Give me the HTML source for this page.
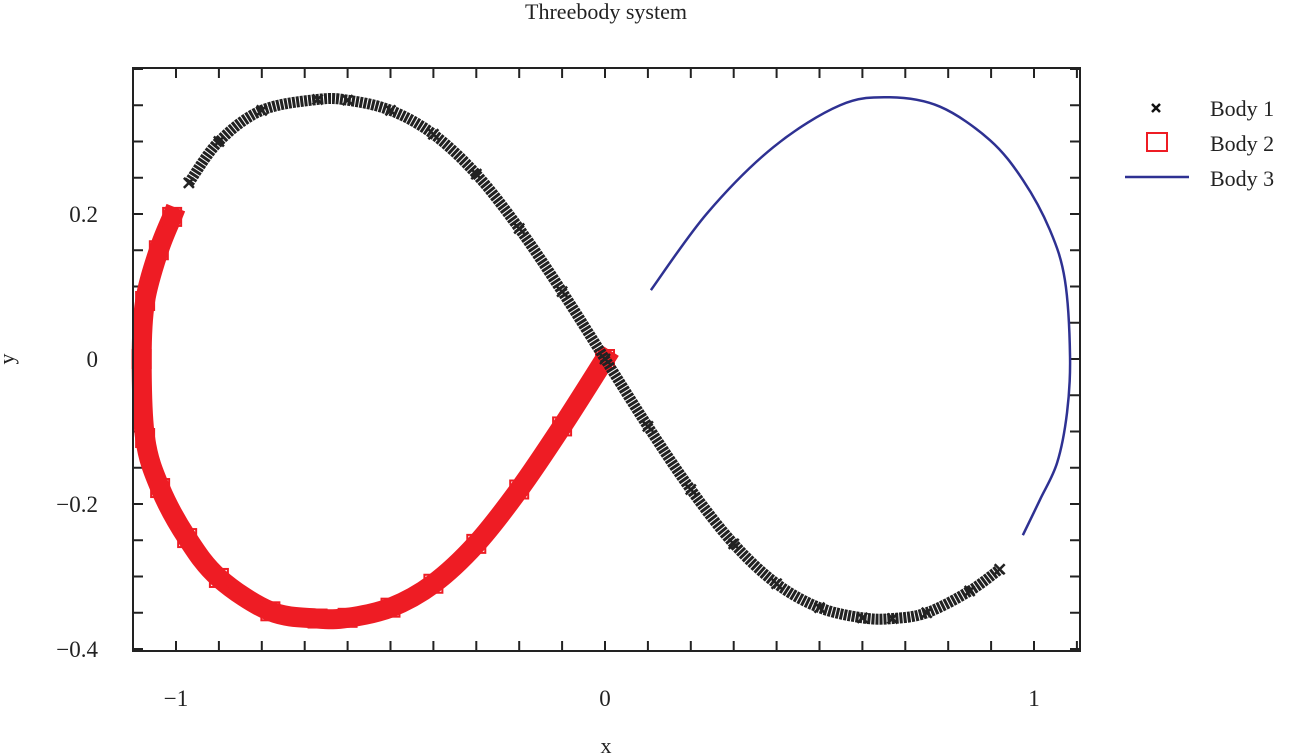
<!DOCTYPE html>
<html><head><meta charset="utf-8"><style>
html,body{margin:0;padding:0;background:#fff;}
svg{display:block;font-family:"Liberation Serif",serif;}
</style></head><body>
<svg id="chart" width="1289" height="756" viewBox="0 0 1289 756">
<text x="606" y="19" font-size="22" text-anchor="middle" fill="#222">Threebody system</text>
<text x="606" y="753" font-size="22" text-anchor="middle" fill="#222">x</text>
<text x="14" y="359" font-size="22" text-anchor="middle" fill="#222" transform="rotate(-90 14 359)">y</text>
<g id="ticks"></g>
<g id="series"></g>
<rect x="133" y="68" width="947" height="583" fill="none" stroke="#222" stroke-width="2"/>
<g>
<g>
<path d="M1152,104 l8,8 M1160,104 l-8,8" stroke="#111" stroke-width="2.5"/>
<text x="1210" y="116" font-size="22" fill="#222">Body 1</text></g>
<g>
<rect x="1147" y="133" width="20" height="18" fill="none" stroke="#ee1c24" stroke-width="2"/>
<text x="1210" y="151" font-size="22" fill="#222">Body 2</text></g>
<g>
<line x1="1125" y1="177" x2="1189" y2="177" stroke="#2e3192" stroke-width="2.5"/>
<text x="1210" y="186" font-size="22" fill="#222">Body 3</text></g>
</g>
</svg>
<script>
const xTicks=[-1,0,1];
const xTickLabels=["\u22121","0","1"];
const yTicks=[-0.4,-0.2,0,0.2];
const yTickLabels=["\u22120.4","\u22120.2","0","0.2"];
const body1X=[-0.97,-0.9,-0.8,-0.67,-0.6,-0.5,-0.4,-0.3,-0.2,-0.1,0,0.1,0.2,0.3,0.4,0.5,0.6,0.67,0.75,0.85,0.92];
const body1Y=[0.243,0.3,0.343,0.358,0.357,0.343,0.31,0.255,0.18,0.093,0,-0.093,-0.18,-0.255,-0.31,-0.343,-0.357,-0.358,-0.35,-0.32,-0.29];
const body2X=[0,-0.1,-0.2,-0.3,-0.4,-0.5,-0.6,-0.67,-0.78,-0.9,-0.974,-1.037,-1.072,-1.08,-1.072,-1.04,-1.009];
const body2Y=[0,-0.093,-0.18,-0.255,-0.31,-0.343,-0.357,-0.358,-0.348,-0.302,-0.247,-0.178,-0.109,0,0.08,0.15,0.196];
const body3X=[0.974,1.014,1.054,1.077,1.084,1.072,1.037,0.974,0.897,0.781,0.664,0.548,0.392,0.238,0.107];
const body3Y=[-0.243,-0.194,-0.143,-0.074,0.003,0.109,0.178,0.247,0.302,0.348,0.361,0.350,0.292,0.201,0.095];

const NS="http://www.w3.org/2000/svg";
function sx(v){return 605+429*v;}
function sy(v){return 359-725*v;}
function mk(tag,attrs,parent){const e=document.createElementNS(NS,tag);for(const k in attrs)e.setAttribute(k,attrs[k]);parent.appendChild(e);return e;}
function smooth(xs,ys){
  const p=xs.map((x,i)=>[sx(x),sy(ys[i])]);
  let d="M"+p[0][0]+","+p[0][1];
  for(let i=0;i<p.length-1;i++){
    const p0=p[Math.max(0,i-1)],p1=p[i],p2=p[i+1],p3=p[Math.min(p.length-1,i+2)];
    const c1=[p1[0]+(p2[0]-p0[0])/6,p1[1]+(p2[1]-p0[1])/6];
    const c2=[p2[0]-(p3[0]-p1[0])/6,p2[1]-(p3[1]-p1[1])/6];
    d+=" C"+c1+" "+c2+" "+p2;
  }
  return d;
}
const tg=document.getElementById('ticks');
for(let k=-11;k<=11;k++){
  const x=sx(k/10);
  if(x<134||x>1079)continue;
  const L=10;
  const t1=mk('line',{x1:x,y1:651,x2:x,y2:651-L,stroke:'#222','stroke-width':2},tg);
  
  
  const t2=mk('line',{x1:x,y1:68,x2:x,y2:68+L,stroke:'#222','stroke-width':2},tg);
  
  
}
for(let k=-8;k<=8;k++){
  const y=sy(k*0.05);
  if(y<69||y>650)continue;
  const L=10;
  const t1=mk('line',{x1:133,y1:y,x2:133+L,y2:y,stroke:'#222','stroke-width':2},tg);
  
  
  const t2=mk('line',{x1:1080,y1:y,x2:1080-L,y2:y,stroke:'#222','stroke-width':2},tg);
  
  
}
xTicks.forEach((v,i)=>{
  const t=mk('text',{x:sx(v),y:706,'font-size':23,'text-anchor':'middle',fill:'#222'},tg);
  t.textContent=xTickLabels[i];
  
  
});
yTicks.forEach((v,i)=>{
  const t=mk('text',{x:98,y:sy(v)+8,'font-size':23,'text-anchor':'end',fill:'#222'},tg);
  t.textContent=yTickLabels[i];
  
  
});
const sg=document.getElementById('series');
// Body 2 (squares)
const b2=mk('path',{d:smooth(body2X,body2Y),fill:'none',stroke:'#ee1c24','stroke-width':20,'stroke-linejoin':'round','stroke-linecap':'square'},sg);


body2X.forEach((x,i)=>{
  const r=mk('rect',{x:sx(x)-9,y:sy(body2Y[i])-9,width:18,height:18,fill:'none',stroke:'#ee1c24','stroke-width':2},sg);
  
  
});
// Body 1 (crosses)
const b1=mk('path',{d:smooth(body1X,body1Y),fill:'none',stroke:'#222','stroke-width':11,'stroke-dasharray':'3 1'},sg);


body1X.forEach((x,i)=>{
  const cx=sx(x),cy=sy(body1Y[i]);
  const m=mk('path',{d:`M${cx-5},${cy-5}L${cx+5},${cy+5}M${cx+5},${cy-5}L${cx-5},${cy+5}`,stroke:'#222','stroke-width':2.5},sg);
  
  
});
// Body 3 (line)
const b3=mk('path',{d:smooth(body3X,body3Y),fill:'none',stroke:'#2e3192','stroke-width':2.5},sg);


</script>
</body></html>
